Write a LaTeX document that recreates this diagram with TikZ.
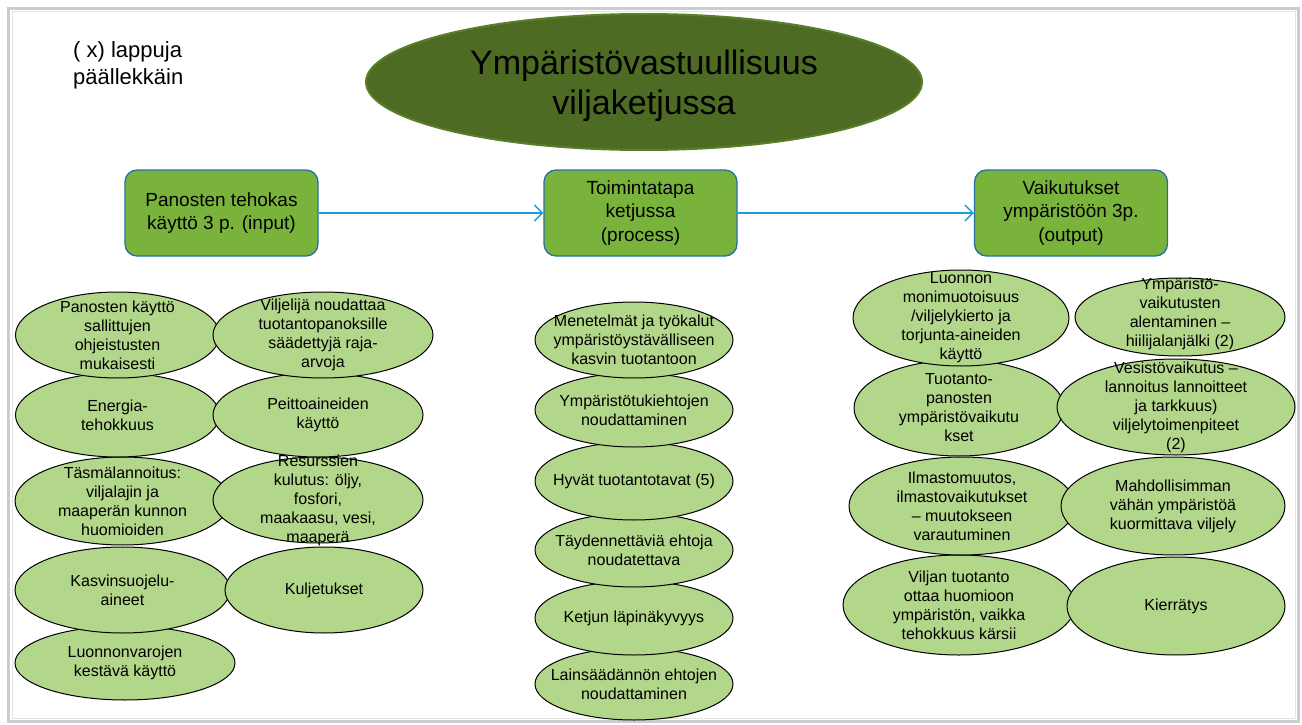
\documentclass[tikz,border=0pt]{standalone}
\usepackage{fontspec}
\setmainfont{Liberation Sans}
\usetikzlibrary{shapes.geometric,arrows.meta}
\definecolor{titlegreen}{HTML}{4E6B23}
\definecolor{titleedge}{HTML}{5B7E2B}
\definecolor{boxgreen}{HTML}{7AB33C}
\definecolor{boxedge}{HTML}{2470A6}
\definecolor{arrowblue}{HTML}{1B9BDB}
\definecolor{ellgreen}{HTML}{B3D78A}
\begin{document}
\begin{tikzpicture}[x=1pt,y=-1pt,
 ell/.style={ellipse, draw=black, line width=1pt, fill=ellgreen, inner sep=0pt},
 etxt/.style={align=center, font=\fontsize{16}{19}\selectfont, inner sep=0pt},
 procbox/.style={rectangle, rounded corners=12pt, draw=boxedge, line width=1.3pt, fill=boxgreen, minimum width=193pt, minimum height=86pt, align=center, font=\fontsize{19}{23.5}\selectfont, inner sep=0pt},
 flow/.style={draw=arrowblue, line width=1.4pt, -{Straight Barb[length=8pt,width=16pt]}}
]
\useasboundingbox (0,0) rectangle (1302,725);
% frame
\draw[gray!40, line width=3.5pt] (8.5,8.5) rectangle (1298.5,721.5);
\draw[gray!22, line width=1pt] (12,12) rectangle (1295,718);

% title
\node[ellipse, fill=titlegreen, draw=titleedge, line width=2pt, minimum width=556pt, minimum height=136pt, inner sep=0pt] (title) at (644,82) {};
\node[align=center, font=\fontsize{34}{40}\selectfont, inner sep=0pt] (titletext) at (644,86) {Ympäristövastuullisuus\\viljaketjussa};

\node[anchor=north west, align=left, font=\fontsize{22}{27}\selectfont, inner sep=0pt] (note) at (73,41) {( x) lappuja\\päällekkäin};

% process boxes
\node[procbox] (b1) at (221.5,213) {Panosten tehokas\\käyttö 3 p. (input)};
\node[procbox] (b2) at (640.5,213) {Toimintatapa\\ketjussa\\(process)};
\node[procbox] (b3) at (1071,213) {Vaikutukset\\ympäristöön 3p.\\(output)};
\draw[flow] (b1) -- (b2);
\draw[flow] (b2) -- (b3);

% left column ellipses (lower rows first)
\node[ell, minimum width=220pt, minimum height=74pt] (l9) at (125,663) {};
\node[ell, minimum width=215pt, minimum height=86pt] (l7) at (122.5,590) {};
\node[ell, minimum width=198pt, minimum height=86pt] (l8) at (324,590) {};
\node[ell, minimum width=215pt, minimum height=88pt] (l5) at (122.5,501) {};
\node[ell, minimum width=210pt, minimum height=86pt] (l6) at (318,500) {};
\node[ell, minimum width=204pt, minimum height=84pt] (l3) at (117.5,415) {};
\node[ell, minimum width=210pt, minimum height=84pt] (l4) at (318,415) {};
\node[ell, minimum width=204pt, minimum height=86pt] (l1) at (117.5,335) {};
\node[ell, minimum width=220pt, minimum height=86pt] (l2) at (323,335) {};

% centre column ellipses
\node[ell, minimum width=198pt, minimum height=72pt] (c6) at (634,684) {};
\node[ell, minimum width=198pt, minimum height=74pt] (c5) at (634,618) {};
\node[ell, minimum width=198pt, minimum height=74pt] (c4) at (634,550) {};
\node[ell, minimum width=198pt, minimum height=78pt] (c3) at (634,481) {};
\node[ell, minimum width=198pt, minimum height=74pt] (c2) at (634,410) {};
\node[ell, minimum width=198pt, minimum height=76pt] (c1) at (634,340) {};

% right column ellipses
\node[ell, minimum width=232pt, minimum height=100pt] (r7) at (959,605) {};
\node[ell, minimum width=218pt, minimum height=98pt] (r8) at (1176,606) {};
\node[ell, minimum width=226pt, minimum height=98pt] (r5) at (962,506) {};
\node[ell, minimum width=224pt, minimum height=98pt] (r6) at (1173,506) {};
\node[ell, minimum width=210pt, minimum height=96pt] (r3) at (959,408) {};
\node[ell, minimum width=238pt, minimum height=96pt] (r4) at (1176,407) {};
\node[ell, minimum width=216pt, minimum height=96pt] (r1) at (961,318) {};
\node[ell, minimum width=210pt, minimum height=78pt] (r2) at (1180,317) {};

% texts
\node[etxt] (l1t) at (l1) {Panosten käyttö\\sallittujen\\ohjeistusten\\mukaisesti};
\node[etxt] (l2t) at (l2) {Viljelijä noudattaa\\tuotantopanoksille\\säädettyjä raja-\\arvoja};
\node[etxt] (l3t) at (l3) {Energia-\\tehokkuus};
\node[etxt] (l4t) at (l4) {Peittoaineiden\\käyttö};
\node[etxt] (l5t) at (l5) {Täsmälannoitus:\\viljalajin ja\\maaperän kunnon\\huomioiden};
\node[etxt] (l6t) at (l6) {Resurssien\\kulutus: öljy,\\fosfori,\\maakaasu, vesi,\\maaperä};
\node[etxt] (l7t) at (l7) {Kasvinsuojelu-\\aineet};
\node[etxt] (l8t) at (l8) {Kuljetukset};
\node[etxt] (l9t) at (l9) {Luonnonvarojen\\kestävä käyttö};

\node[etxt] (c1t) at (c1) {Menetelmät ja työkalut\\ympäristöystävälliseen\\kasvin tuotantoon};
\node[etxt] (c2t) at (c2) {Ympäristötukiehtojen\\noudattaminen};
\node[etxt] (c3t) at (c3) {Hyvät tuotantotavat (5)};
\node[etxt] (c4t) at (c4) {Täydennettäviä ehtoja\\noudatettava};
\node[etxt] (c5t) at (c5) {Ketjun läpinäkyvyys};
\node[etxt] (c6t) at (c6) {Lainsäädännön ehtojen\\noudattaminen};

\node[etxt] (r1t) at (r1) {Luonnon\\monimuotoisuus\\/viljelykierto ja\\torjunta-aineiden\\käyttö};
\node[etxt, yshift=3pt] (r2t) at (r2) {Ympäristö-\\vaikutusten\\alentaminen –\\hiilijalanjälki (2)};
\node[etxt] (r3t) at (r3) {Tuotanto-\\panosten\\ympäristövaikutu\\kset};
\node[etxt] (r4t) at (r4) {Vesistövaikutus –\\lannoitus lannoitteet\\ja tarkkuus)\\viljelytoimenpiteet\\(2)};
\node[etxt] (r5t) at (r5) {Ilmastomuutos,\\ilmastovaikutukset\\– muutokseen\\varautuminen};
\node[etxt] (r6t) at (r6) {Mahdollisimman\\vähän ympäristöä\\kuormittava viljely};
\node[etxt] (r7t) at (r7) {Viljan tuotanto\\ottaa huomioon\\ympäristön, vaikka\\tehokkuus kärsii};
\node[etxt] (r8t) at (r8) {Kierrätys};
\end{tikzpicture}
\end{document}
